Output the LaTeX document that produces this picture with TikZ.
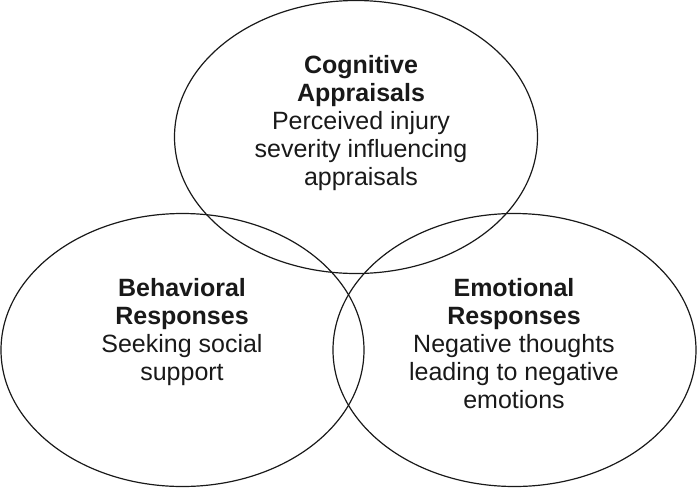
\documentclass[tikz,border=0pt]{standalone}
\usepackage{fontspec}
\setmainfont{Liberation Sans}
\usetikzlibrary{shapes.geometric}
\begin{document}
\begin{tikzpicture}
      [x=1pt, y=-1pt,
      zone/.style={ellipse, draw=black!90, line width=1.2pt, inner sep=0pt,
        minimum width=363pt, minimum height=273pt},
      label/.style={anchor=north, align=center, inner sep=0pt,
        font=\fontsize{25}{28}\selectfont, text=black!90},
      ]
      \useasboundingbox (0,0) rectangle (697,488);
      \node[zone] (cog) at (356,137) {};
      \node[zone] (beh) at (182.5,350) {};
      \node[zone] (emo) at (514.5,350) {};
      \node[label] (cogtext) at (361,55)
        {\textbf{Cognitive}\\\textbf{Appraisals}\\Perceived injury\\severity influencing\\appraisals};
      \node[label] (behtext) at (182,278)
        {\textbf{Behavioral}\\\textbf{Responses}\\Seeking social\\support};
      \node[label] (emotext) at (514,278)
        {\textbf{Emotional}\\\textbf{Responses}\\Negative thoughts\\leading to negative\\emotions};
      \end{tikzpicture}
\end{document}
